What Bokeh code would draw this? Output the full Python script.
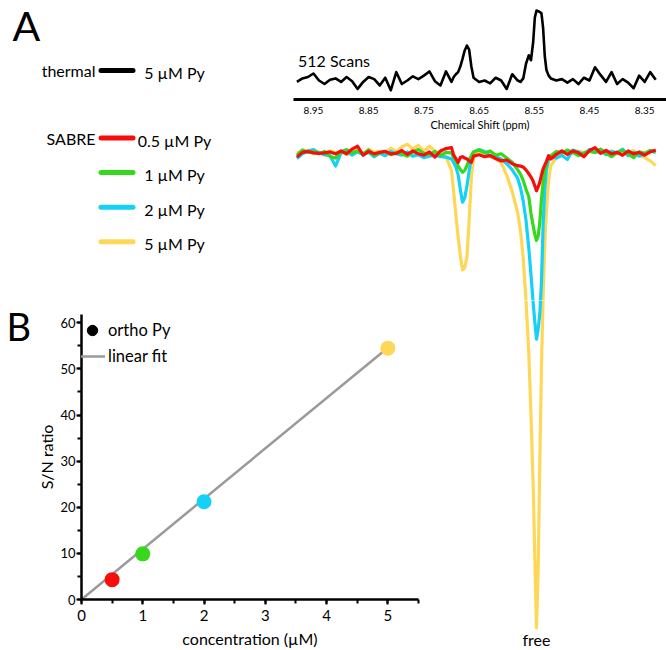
from bokeh.plotting import figure
from bokeh.layouts import row, column
from bokeh.models import (Range1d, Legend, LegendItem, FixedTicker, SingleIntervalTicker)
from bokeh.core.properties import value
from bokeh.embed import file_html
from bokeh.resources import INLINE

FONT = "Lato"

# ---------------- data ----------------
# chemical shift grid (ppm) shared by all spectra
PPM = [8.98, 8.97, 8.96, 8.95, 8.94, 8.93, 8.92, 8.91, 8.90, 8.89, 8.88, 8.87, 8.86, 8.85,
       8.84, 8.83, 8.82, 8.81, 8.80, 8.79, 8.78, 8.77, 8.76, 8.75, 8.74, 8.73, 8.72, 8.71,
       8.70, 8.696, 8.692, 8.688, 8.684, 8.680, 8.676, 8.672, 8.668, 8.664, 8.66, 8.65,
       8.64, 8.63, 8.62, 8.61, 8.60, 8.59, 8.58, 8.575, 8.57, 8.565, 8.56, 8.556, 8.552,
       8.549, 8.546, 8.543, 8.540, 8.537, 8.534, 8.531, 8.528, 8.524, 8.52, 8.51, 8.50,
       8.49, 8.48, 8.47, 8.46, 8.45, 8.44, 8.43, 8.42, 8.41, 8.40, 8.39, 8.38, 8.37, 8.36,
       8.35, 8.34, 8.33]

THERMAL = [-0.2, 0.3, 0.5, 1.0, 0.0, -0.5, 0.1, 0.3, -0.2, 0.5, -0.1, -1.2, -0.2, 0.5,
           0.2, -0.7, 0.4, -1.4, 1.2, -0.5, 0.0, 0.6, 0.2, 0.7, 1.3, -0.1, -0.7, 1.3,
           -0.2, 0.5, 0.9, 1.2, 2.0, 3.1, 4.3, 5.0, 4.4, 2.0, 0.4, -0.2,
           0.0, -0.4, 0.4, 0.0, -1.2, 0.9, 0.0, -0.2, 0.3, 2.4, 3.6, 2.9, 5.5,
           9.0, 10.0, 9.9, 9.8, 9.6, 7.5, 3.5, 1.5, 0.7, 0.3, 0.0, 0.2,
           -0.3, 0.2, -0.5, 0.4, 0.0, 1.9, 0.8, -0.2, 1.2, -0.5, 0.2, -0.3, -1.1, 0.7,
           -0.2, 1.2, 0.1]

SABRE_RED = [-0.7, 0.3, 0.5, 0.2, 0.1, 0.2, 0.4, 0.0, 0.6, 0.0, 1.0, 1.6, -0.3, 0.5,
             0.0, 0.3, 0.5, 0.0, 0.1, 0.7, -0.1, 0.6, 0.0, -0.3, 0.4, -0.7, 0.6, 1.1,
             1.3, -0.3, -1.0, -1.8, -0.8, -0.6, -0.9, -1.1, -1.5, -1.8, -0.5, -0.2,
             -0.6, -0.4, -1.0, -1.5, -1.3, -2.1, -2.5, -2.6, -2.8, -3.4, -4.2, -4.9, -5.8,
             -6.8, -7.8, -7.0, -6.0, -4.5, -3.2, -2.4, -1.6, -0.4, -1.1, -0.1, 0.6,
             -0.1, 0.6, 0.2, -0.6, 0.7, 1.3, 0.1, 0.7, 0.0, 0.3, -0.3, 0.6, 0.0, 0.3,
             -0.3, 0.4, 0.8]

SABRE_GREEN = [-0.3, 0.8, 0.3, 0.6, 0.0, 0.5, -0.6, -0.9, 0.4, 0.9, 0.2, 0.6, 0.0, 0.8,
               -0.4, 0.2, 0.5, -0.2, 0.3, 0.0, -0.5, 0.4, 0.9, 0.1, -0.2, 0.5, -0.4, 0.3,
               0.2, -0.8, -1.4, -2.6, -3.3, -3.9, -3.5, -2.5, -1.2, -0.4, 0.4, 0.8,
               0.2, 0.6, -0.3, 0.0, -0.9, -1.8, -3.4, -4.3, -5.6, -7.5, -9.0, -12.6, -15.2,
               -17.0, -18.3, -17.4, -14.5, -9.5, -6.0, -3.6, -2.2, -1.0, -0.4, 0.5, 0.2,
               0.8, 0.3, -0.4, 0.2, 0.5, 0.3, 1.0, 0.1, -0.6, 0.3, 0.7, 0.0, -0.8, 0.4,
               0.1, 0.7, 0.5]

SABRE_CYAN = [-1.0, 0.0, 0.6, 0.9, 0.2, -0.2, -0.4, -2.6, 0.2, 0.5, -0.3, 0.4, -0.2, 0.3,
              -0.6, 0.1, -0.4, 0.5, 0.0, -0.3, 0.4, -0.5, -0.2, -0.8, -0.5, -0.3, -0.6, -0.7,
              -1.1, -1.9, -2.8, -4.4, -7.5, -10.2, -9.3, -6.8, -3.6, -1.0, 0.4, 0.9,
              0.5, -0.4, -0.6, -1.1, -2.1, -3.4, -5.2, -7.2, -10.0, -14.0, -19.8, -25.5, -31.5,
              -35.5, -39.1, -37.0, -33.8, -27.0, -15.0, -7.5, -3.5, -1.2, -0.6, -0.9, -0.3,
              -1.2, 0.8, 0.4, -0.2, 0.9, 0.3, 0.6, -0.2, 0.5, 0.2, 1.0, -0.4, 0.3, -0.5,
              0.0, 0.6, 0.3]

SABRE_YELLOW = [0.2, 0.5, 0.7, 0.0, 0.4, -0.3, 0.6, 0.2, 0.5, -0.2, 0.3, 0.8, 0.0, 1.0,
                0.3, 0.5, 0.0, 1.2, 0.4, 1.5, 2.0, 1.0, 1.8, 0.5, 1.6, 0.6, 0.2, -0.6,
                -3.5, -8.0, -13.0, -17.5, -21.5, -24.5, -24.0, -21.8, -14.0, -5.0, -0.7, 0.5,
                0.1, -0.6, -1.1, -1.8, -4.5, -8.0, -12.5, -16.2, -22.0, -31.0, -42.0, -55.0, -70.0,
                -85.0, -100.0, -88.0, -65.0, -45.0, -30.0, -19.0, -12.0, -5.5, -2.5, -0.8, 0.3,
                0.5, 0.0, 0.6, 0.2, 0.8, 0.4, 0.9, 0.3, 0.6, 0.0, 0.5, 0.2, 0.7, -0.3,
                -0.8, -1.5, -2.5]

SABRE_SERIES = [SABRE_RED, SABRE_GREEN, SABRE_CYAN, SABRE_YELLOW]
SABRE_LABELS = ["0.5 µM Py", "1 µM Py", "2 µM Py", "5 µM Py"]
SABRE_COLORS = ["#f80d0d", "#36d81c", "#15d1f7", "#ffd757"]
THERMAL_LABEL = "5 µM Py"
PPM_TICKS = [8.95, 8.85, 8.75, 8.65, 8.55, 8.45, 8.35]

CONC = [0.5, 1, 2, 5]            # µM
SN_RATIO = [4.3, 9.9, 21.2, 54.5]
FIT_X = [0, 5]
FIT_Y = [0.0, 54.6]

# ---------------- layout geometry (px) ----------------
W, H = 666, 650
TOP_H = 300
LEFT_W = 293
RIGHT_W = W - LEFT_W
THERM_H = 138
SABRE_TOP_H = TOP_H - THERM_H
BOT_H = H - TOP_H
B_W = 34
SCAT_W = 422 - B_W
SABRE_BOT_W = W - B_W - SCAT_W

PX_PER_PPM = 552.0
PPM_LEFT = 8.9862
PPM_RIGHT = PPM_LEFT - RIGHT_W / PX_PER_PPM
PPM_BOT_LEFT = PPM_LEFT - (B_W + SCAT_W - LEFT_W) / PX_PER_PPM

SABRE_PX = 4.74          # px per intensity unit
SABRE_BASE_PX = 15.3     # baseline distance below top of upper SABRE panel
SAB_TOP_HI = SABRE_BASE_PX / SABRE_PX
SAB_TOP_LO = SAB_TOP_HI - SABRE_TOP_H / SABRE_PX
SAB_BOT_LO = SAB_TOP_LO - BOT_H / SABRE_PX

SC_TOP_BORDER, SC_BOTTOM_BORDER = 14, 50
SC_PX_PER_UNIT = 4.628
SC_Y_END = (BOT_H - SC_TOP_BORDER - SC_BOTTOM_BORDER) / SC_PX_PER_UNIT


def clean(f):
    f.outline_line_color = None
    f.background_fill_color = "white"
    f.border_fill_color = "white"
    f.grid.visible = False
    return f


def blank(w, h, **kw):
    return clean(figure(width=w, height=h, x_axis_type=None, y_axis_type=None,
                        toolbar_location=None, output_backend="svg", min_border=0,
                        title=None, **kw))


# ---------------- legend panel (A) ----------------
lg = blank(LEFT_W, TOP_H, x_range=Range1d(0, LEFT_W), y_range=Range1d(TOP_H, 0))
lg.text(x=[12], y=[25], text=["A"], text_font=value(FONT), text_font_size="41px",
        text_baseline="middle", text_color="black")

SEG_X0, SEG_X1 = 100.5, 132.5
NAME_X, LAB_X = 95, 174
THERM_ROW = 70
ROW0, ROW_STEP = 137.5, 34.6
rows = [ROW0 + ROW_STEP * i for i in range(len(SABRE_LABELS))]

lg.segment(x0=[SEG_X0], x1=[SEG_X1], y0=[THERM_ROW], y1=[THERM_ROW], line_color="black",
           line_width=5, line_cap="round")
lg.segment(x0=[SEG_X0] * 4, x1=[SEG_X1] * 4, y0=rows, y1=rows, line_color=SABRE_COLORS,
           line_width=5, line_cap="round")
lg.text(x=[NAME_X, NAME_X], y=[THERM_ROW, rows[0]], text=["thermal", "SABRE"],
        text_align="right", text_baseline="middle", text_font=value(FONT),
        text_font_size="16px", text_color="black")
lg.text(x=[LAB_X] * 5, y=[THERM_ROW + 2] + [r + 2 for r in rows],
        text=[THERMAL_LABEL] + SABRE_LABELS,
        text_align="center", text_baseline="middle", text_font=value(FONT),
        text_font_size="16px", text_color="black")

# ---------------- thermal spectrum ----------------
th = clean(figure(width=RIGHT_W, height=THERM_H, x_range=Range1d(PPM_LEFT, PPM_RIGHT),
                  y_range=Range1d(-2.71, 11.43), y_axis_type=None, toolbar_location=None,
                  output_backend="svg", title=None, min_border_left=0, min_border_right=0,
                  min_border_top=0, min_border_bottom=39))
th.line(PPM, THERMAL, line_color="black", line_width=2.6, line_join="round")
th.text(x=[8.978], y=[2.9], text=["512 Scans"], text_font=value(FONT),
        text_font_size="16px", text_baseline="middle", text_color="black")
ax = th.xaxis[0]
ax.ticker = FixedTicker(ticks=PPM_TICKS, minor_ticks=[])
ax.axis_line_width = 3
ax.axis_line_color = "black"
ax.major_tick_out = 0
ax.major_tick_in = 0
ax.major_label_standoff = 7
ax.major_label_text_font = FONT
ax.major_label_text_font_size = "10px"
ax.major_label_text_color = "black"
ax.axis_label = "Chemical Shift (ppm)"
ax.axis_label_text_font = FONT
ax.axis_label_text_font_size = "11px"
ax.axis_label_text_font_style = "normal"
ax.axis_label_text_color = "black"
ax.axis_label_standoff = 1


# ---------------- SABRE spectra (split in two panels) ----------------
def sabre_fig(w, h, x_left, y_lo, y_hi):
    f = blank(w, h, x_range=Range1d(x_left, PPM_RIGHT), y_range=Range1d(y_lo, y_hi))
    for ys, c in reversed(list(zip(SABRE_SERIES, SABRE_COLORS))):
        f.line(PPM, ys, line_color=c, line_width=3.2, line_join="round")
    return f


sab_top = sabre_fig(RIGHT_W, SABRE_TOP_H, PPM_LEFT, SAB_TOP_LO, SAB_TOP_HI)
sab_bot = sabre_fig(SABRE_BOT_W, BOT_H, PPM_BOT_LEFT, SAB_BOT_LO, SAB_TOP_LO)
sab_bot.text(x=[8.546], y=[-102.4], text=["free"], text_font=value(FONT),
             text_font_size="16px", text_align="center", text_baseline="middle",
             text_color="black")

# ---------------- panel label B ----------------
bf = blank(B_W, BOT_H, x_range=Range1d(0, B_W), y_range=Range1d(BOT_H, 0))
bf.text(x=[6], y=[25], text=["B"], text_font=value(FONT), text_font_size="38px",
        text_baseline="middle", text_color="black")

# ---------------- scatter (B) ----------------
sc = clean(figure(width=SCAT_W, height=BOT_H, x_range=Range1d(0, 5.5),
                  y_range=Range1d(0, SC_Y_END), toolbar_location=None, output_backend="svg",
                  title=None, min_border_left=81 - B_W, min_border_right=4,
                  min_border_top=SC_TOP_BORDER, min_border_bottom=SC_BOTTOM_BORDER))
fit = sc.line(FIT_X, FIT_Y, line_color="#9a9a9a", line_width=2.5)
sc.scatter(CONC, SN_RATIO, size=15, fill_color=SABRE_COLORS, line_color=None)
proxy = sc.scatter(CONC[:1], SN_RATIO[:1], size=12, fill_color="black",
                   line_color="black", visible=False)

leg = Legend(items=[LegendItem(label="ortho Py", renderers=[proxy]),
                    LegendItem(label="linear fit", renderers=[fit])],
             location=(-2, 230), glyph_width=26, glyph_height=26, label_height=26,
             label_standoff=3, spacing=0, padding=2, margin=0,
             border_line_color=None, background_fill_alpha=0, inactive_fill_alpha=0,
             label_text_font=FONT, label_text_font_size="16.5px", label_text_color="black")
sc.add_layout(leg)

sc.xaxis.ticker = SingleIntervalTicker(interval=1, num_minor_ticks=2)
sc.yaxis.ticker = SingleIntervalTicker(interval=10, num_minor_ticks=2)
for a in (sc.xaxis[0], sc.yaxis[0]):
    a.axis_line_width = 2.5
    a.axis_line_color = "black"
    a.major_tick_line_width = 2
    a.minor_tick_line_width = 2
    a.major_tick_line_color = "black"
    a.minor_tick_line_color = "black"
    a.major_tick_in = 0
    a.minor_tick_in = 0
    a.major_tick_out = 5
    a.minor_tick_out = 4
    a.major_label_text_font = FONT
    a.major_label_text_color = "black"
    a.axis_label_text_font = FONT
    a.axis_label_text_font_size = "16px"
    a.axis_label_text_font_style = "normal"
    a.axis_label_text_color = "black"
sc.xaxis.axis_label = "concentration (µM)"
sc.xaxis.major_label_text_font_size = "15px"
sc.xaxis.major_label_standoff = 5
sc.xaxis.axis_label_standoff = 5
sc.yaxis.axis_label = "S/N ratio"
sc.yaxis.major_label_text_font_size = "13px"
sc.yaxis.major_label_standoff = 1
sc.yaxis.axis_label_standoff = 1

layout = column(row(lg, column(th, sab_top)),
                row(column(bf), sc, column(sab_bot)))

open("out.html", "w").write(file_html(layout, INLINE))
